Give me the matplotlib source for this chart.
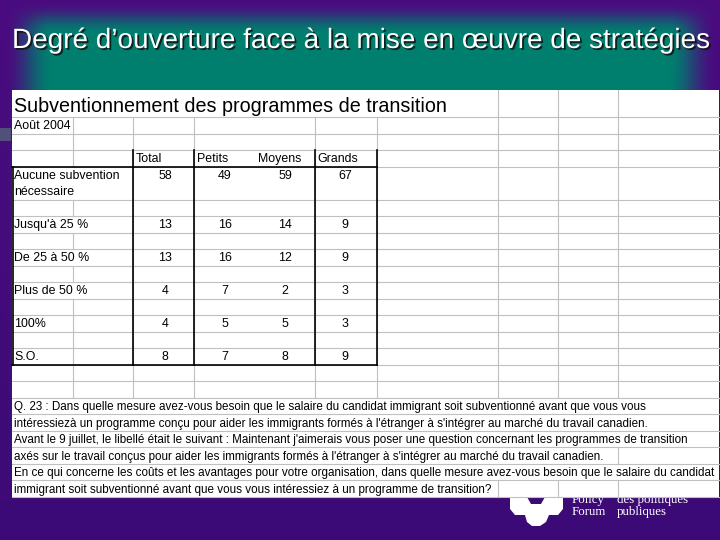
import numpy as np
import matplotlib
matplotlib.use("Agg")
import matplotlib.pyplot as plt
import matplotlib.patheffects as pe
from matplotlib import font_manager
from matplotlib.patches import Rectangle, Polygon

# ---- content ----
slide_title = "Degré d’ouverture face à la mise en œuvre de stratégies"
sheet_title = "Subventionnement des programmes de transition"
sheet_date = "Août 2004"
groups = ["Total", "Petits", "Moyens", "Grands"]
categories = [
    ["Aucune subvention", "nécessaire"],
    ["Jusqu'à 25 %"],
    ["De 25 à 50 %"],
    ["Plus de 50 %"],
    ["100%"],
    ["S.O."],
]
total = [58, 13, 13, 4, 4, 8]
petits = [49, 16, 16, 7, 5, 7]
moyens = [59, 14, 12, 2, 5, 8]
grands = [67, 9, 9, 3, 3, 9]
question = [
    "Q. 23 : Dans quelle mesure avez-vous besoin que le salaire du candidat immigrant soit subventionné avant que vous vous",
    "intéressiezà un programme conçu pour aider les immigrants formés à l'étranger à s'intégrer au marché du travail canadien.",
    "Avant le 9 juillet, le libellé était le suivant : Maintenant j'aimerais vous poser une question concernant les programmes de transition",
    "axés sur le travail conçus pour aider les immigrants formés à l'étranger à s'intégrer au marché du travail canadien.",
    "En ce qui concerne les coûts et les avantages pour votre organisation, dans quelle mesure avez-vous besoin que le salaire du candidat",
    "immigrant soit subventionné avant que vous vous intéressiez à un programme de transition?",
]
logo_left = ["Policy", "Forum"]
logo_right = ["des politiques", "publiques"]

# ---- layout (pixels) ----
W, H = 720, 540
cols = [12, 73, 133, 194, 315, 377, 498, 558, 618, 719]
row_h = 16.52
units = [1, 1, 1, 2] + [1] * 18
edges = [90] + list(117 + row_h * np.cumsum([0] + units))
cat_rows = [4, 6, 8, 10, 12, 14]
q_rows = list(range(17, 23))
val_x = [165, 225, 285, 345]
head_x = [136, 197, 258, 317]
q_widths = [633, 600, 695, 591, 703, 481]
cell_fs = 8.9

names = {f.name for f in font_manager.fontManager.ttflist}
sans = "Liberation Sans" if "Liberation Sans" in names else "DejaVu Sans"
narrow = "Liberation Sans Narrow" if "Liberation Sans Narrow" in names else sans
serif = "Liberation Serif" if "Liberation Serif" in names else "DejaVu Serif"

fig = plt.figure(figsize=(7.2, 5.4), dpi=100)
ax = fig.add_axes([0, 0, 1, 1])
ax.set_xlim(0, W)
ax.set_ylim(H, 0)
ax.axis("off")

# ---- background: purple frame fading to teal ----
yy, xx = np.mgrid[0:H, 0:W] + 0.5


def ramp(v, a, b):
    t = np.clip((v - a) / (b - a), 0, 1)
    return t * t * (3 - 2 * t)


alpha = ramp(xx, 5, 52) * ramp(xx, 716, 668) * ramp(yy, 2, 34) * ramp(yy, 500, 455)
top_p = np.array([74, 12, 128]) / 255
bot_p = np.array([60, 10, 118]) / 255
k = (yy / H)[..., None]
purple = top_p * (1 - k) + bot_p * k
teal = np.array([0, 126, 110]) / 255
img = purple * (1 - alpha[..., None]) + teal * alpha[..., None]
ax.imshow(img, extent=(0, W, H, 0), aspect="auto", zorder=0, interpolation="bilinear")

ax.add_patch(Rectangle((0, 128), 11, 13, fc="#50507a", ec="none", zorder=1))

title = ax.text(12, 48, slide_title, color="white", fontsize=22, family=narrow,
                va="baseline", ha="left", zorder=5,
                path_effects=[pe.SimplePatchShadow(offset=(1.3, -1.3), shadow_rgbFace="#111111", alpha=0.85),
                              pe.Normal()])

# ---- logo, partly behind the sheet ----
logo = Polygon([(510, 497), (527, 497), (531, 504), (541, 504), (545, 497), (563, 497),
                (563, 509), (558, 515), (549, 515), (546, 522), (540, 526), (532, 526),
                (527, 522), (525, 515), (515, 515), (510, 509)],
               closed=True, fc="white", ec="none", zorder=1)
ax.add_patch(logo)
for i in range(2):
    ax.text(572, 502.5 + 12.5 * i, logo_left[i], color="white", fontsize=9.3, family=serif, zorder=1)
    ax.text(617, 502.5 + 12.5 * i, logo_right[i], color="white", fontsize=9.3, family=serif, zorder=1)

# ---- sheet ----
ax.add_patch(Rectangle((cols[0], edges[0]), cols[-1] - cols[0], edges[-1] - edges[0],
                       fc="white", ec="none", zorder=2))

fig.canvas.draw()
renderer = fig.canvas.get_renderer()


def right_end(t):
    bb = t.get_window_extent(renderer)
    return bb.x1


# fit slide title to its width
w = title.get_window_extent(renderer).width
title.set_fontsize(title.get_fontsize() * 696 / w)

row_end = {}
tt = ax.text(14, 112, sheet_title, fontsize=14.2, family=sans, zorder=4)
row_end[0] = right_end(tt)
tt = ax.text(14, edges[1] + 12, sheet_date, fontsize=cell_fs, family=sans, zorder=4)
row_end[1] = right_end(tt)

for gx, g in zip(head_x, groups):
    ax.text(gx, edges[3] + 12, g, fontsize=cell_fs, family=sans, zorder=4)

series = [total, petits, moyens, grands]
for i, r in enumerate(cat_rows):
    ends = []
    for j, line in enumerate(categories[i]):
        tt = ax.text(14, edges[r] + 12 + row_h * j, line, fontsize=cell_fs, family=sans, zorder=4)
        ends.append(right_end(tt))
    row_end[r] = max(ends)
    for vx, s in zip(val_x, series):
        ax.text(vx, edges[r] + 12, str(s[i]), fontsize=cell_fs, family=sans, ha="center", zorder=4)

# question lines: one common size fitted on measured widths
qtexts = []
sizes = []
for r, line, wd in zip(q_rows, question, q_widths):
    tt = ax.text(14, edges[r] + 12.5, line, fontsize=8, family=sans, zorder=4)
    sizes.append(8 * wd / tt.get_window_extent(renderer).width)
    qtexts.append((r, tt))
qsize = float(np.mean(sizes))
for r, tt in qtexts:
    tt.set_fontsize(qsize)
    row_end[r] = right_end(tt)

# ---- gridlines ----
grid = "#c0c0c0"
for y in edges[1:]:
    ax.plot([cols[0], cols[-1]], [y, y], color=grid, lw=0.8, zorder=3)
for r in range(len(edges) - 1):
    for x in cols[1:-1]:
        if x > row_end.get(r, 0) + 1:
            ax.plot([x, x], [edges[r], edges[r + 1]], color=grid, lw=0.8, zorder=3)

# ---- black table borders ----
for y in (edges[4], edges[15]):
    ax.plot([cols[0], cols[5]], [y, y], color="black", lw=1.2, zorder=3.5)
for x in cols[2:6]:
    ax.plot([x, x], [edges[3], edges[15]], color="black", lw=1.2, zorder=3.5)
ax.plot([cols[0] + 0.5, cols[0] + 0.5], [edges[4], edges[15]], color="black", lw=1.2, zorder=3.5)

fig.savefig("out.png", dpi=100)
